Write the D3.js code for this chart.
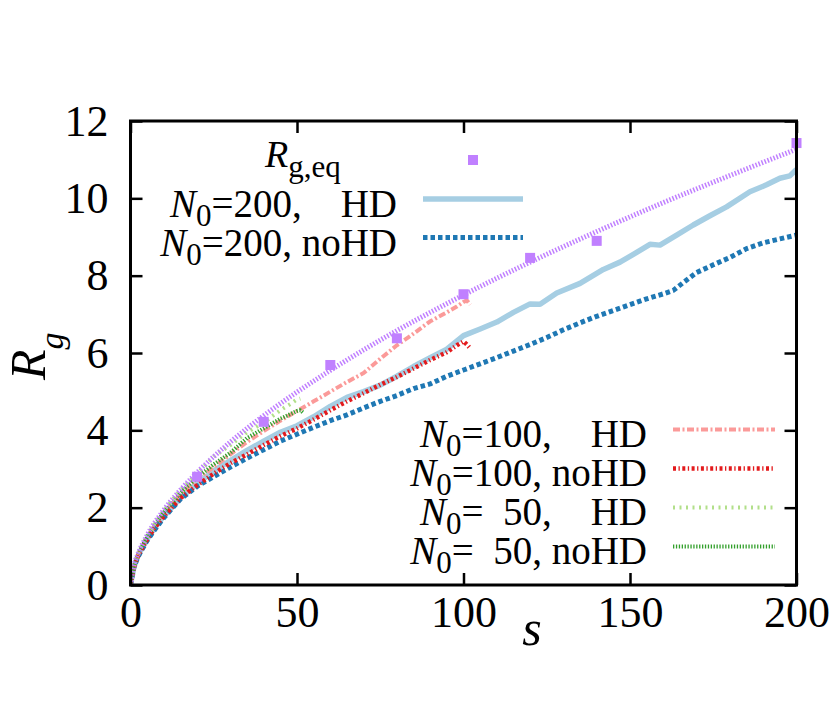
<!DOCTYPE html>
<html><head><meta charset="utf-8">
<script src="https://cdn.jsdelivr.net/npm/d3@7"></script>
<style>
html,body{margin:0;padding:0;background:#fff;}
svg text{font-family:"Liberation Serif","DejaVu Serif",serif;white-space:pre;}
</style></head>
<body>
<svg id="chart" width="830" height="705"></svg>
<script>
// ---- data ----
const xTicks = [0, 50, 100, 150, 200];
const yTicks = [0, 2, 4, 6, 8, 10, 12];

// R_g,eq reference points
const eqS = [20, 40, 60, 80, 100, 120, 140, 200];
const eqR = [2.80, 4.22, 5.69, 6.38, 7.52, 8.46, 8.90, 11.43];

// fit curve through R_g,eq
const fitS = [0, 1, 2, 5, 10, 15, 20, 30, 40, 50, 60, 70, 80, 90, 100, 120, 140, 160, 180, 200];
const fitR = [0, 0.5, 0.75, 1.29, 1.94, 2.46, 2.91, 3.70, 4.38, 4.99, 5.55, 6.08, 6.58, 7.05, 7.50, 8.35, 9.14, 9.89, 10.59, 11.27];

// N0=200, HD
const hd200S = [0,1,2,3,5,7,10,15,20,25,30,35,40,45,50,55,60,65,70,75,80,85,90,95,100,105,110,115,120,123,128,135,142,147,151,156,159,164,169,174,179,186,191,195,198,200];
const hd200R = [0,0.45,0.70,0.88,1.18,1.45,1.78,2.25,2.62,2.95,3.22,3.48,3.72,3.95,4.12,4.35,4.62,4.85,5.00,5.17,5.40,5.65,5.88,6.10,6.45,6.62,6.80,7.05,7.27,7.26,7.55,7.80,8.16,8.35,8.55,8.81,8.79,9.05,9.31,9.55,9.78,10.17,10.35,10.52,10.58,10.75];

// N0=200, noHD
const nohd200S = [0,1,2,3,5,7,10,15,20,25,30,35,40,45,50,55,60,65,70,75,80,85,90,95,100,105,110,115,120,125,130,135,140,145,150,155,160,163,166,170,175,180,185,190,195,200];
const nohd200R = [0,0.45,0.68,0.85,1.15,1.40,1.74,2.22,2.55,2.80,3.05,3.28,3.50,3.72,3.90,4.08,4.25,4.40,4.58,4.75,4.90,5.08,5.20,5.40,5.56,5.72,5.88,6.05,6.22,6.40,6.60,6.78,6.95,7.10,7.25,7.40,7.53,7.62,7.82,8.08,8.28,8.47,8.70,8.85,8.95,9.05];

// N0=100, HD
const hd100S = [0,1,2,3,5,7,10,15,20,25,30,35,40,45,50,55,60,65,70,75,80,85,90,95,98,100,101,102];
const hd100R = [0,0.46,0.72,0.92,1.22,1.50,1.85,2.35,2.72,3.05,3.38,3.70,3.98,4.25,4.50,4.75,5.00,5.25,5.48,5.85,6.20,6.50,6.82,7.05,7.20,7.32,7.36,7.25];

// N0=100, noHD
const nohd100S = [0,1,2,3,5,7,10,15,20,25,30,35,40,45,50,55,60,65,70,75,80,85,90,95,98,100,101,102];
const nohd100R = [0,0.45,0.70,0.88,1.18,1.45,1.78,2.25,2.58,2.88,3.15,3.38,3.62,3.85,4.05,4.28,4.52,4.75,4.96,5.18,5.38,5.60,5.82,6.02,6.20,6.30,6.22,6.12];

// N0=50, HD
const hd50S = [0,1,2,3,5,7,10,15,20,25,30,35,40,45,48,50,51];
const hd50R = [0,0.48,0.75,0.95,1.27,1.55,1.92,2.45,2.88,3.32,3.62,3.95,4.20,4.52,4.68,4.80,4.82];

// N0=50, noHD
const nohd50S = [0,1,2,3,5,7,10,15,20,25,30,35,40,45,48,50,51,52];
const nohd50R = [0,0.47,0.73,0.93,1.24,1.52,1.88,2.38,2.78,3.12,3.42,3.80,4.05,4.30,4.42,4.50,4.52,4.45];

// ---- chart ----
const svg = d3.select("#chart");
const L = 130.5, R = 796.5, T = 121, B = 585;
const x = d3.scaleLinear().domain([0, 200]).range([L, R]);
const y = d3.scaleLinear().domain([0, 12]).range([B, T]);

const tickFont = 44;

const series = [
  {s: hd200S, r: hd200R, color: "#a6cee3", w: 5.5, dash: null},
  {s: nohd200S, r: nohd200R, color: "#1f78b4", w: 5, dash: "4.5,3"},
  {s: hd100S, r: hd100R, color: "#fb9a99", w: 4, dash: "7,2.5,2,2.5"},
  {s: nohd100S, r: nohd100R, color: "#e31a1c", w: 4.5, dash: "3,2.5,1.3,2.5"},
  {s: hd50S, r: hd50R, color: "#b2df8a", w: 4, dash: "2,4.5"},
  {s: nohd50S, r: nohd50R, color: "#33a02c", w: 4, dash: "1.3,1.6"}
];

const line = d3.line().x(d => x(d[0])).y(d => y(d[1]));
svg.append("clipPath").attr("id", "pc").append("rect")
  .attr("x", L).attr("y", T).attr("width", R - L).attr("height", B - T);
const plot = svg.append("g").attr("clip-path", "url(#pc)");

series.forEach(se => {
  plot.append("path")
    .datum(d3.zip(se.s, se.r))
    .attr("d", line)
    .attr("fill", "none")
    .attr("stroke", se.color)
    .attr("stroke-width", se.w)
    .attr("stroke-dasharray", se.dash)
    .attr("stroke-linejoin", "round");
});

// fit line
plot.append("path")
  .datum(d3.zip(fitS, fitR))
  .attr("d", d3.line().x(d => x(d[0])).y(d => y(d[1])).curve(d3.curveMonotoneX))
  .attr("fill", "none")
  .attr("stroke", "#c080ff")
  .attr("stroke-width", 5)
  .attr("stroke-dasharray", "1.5,1.7");

// reference squares
const sq = 10;
svg.append("g").selectAll("rect")
  .data(d3.zip(eqS, eqR))
  .join("rect")
  .attr("x", d => x(d[0]) - sq / 2)
  .attr("y", d => y(d[1]) - sq / 2)
  .attr("width", sq).attr("height", sq)
  .attr("fill", "#c080ff");

// axes
const ax = (g) => {
  g.select(".domain").remove();
  g.selectAll("line").attr("stroke", "#000").attr("stroke-width", 2.5);
  g.selectAll("text").attr("font-size", tickFont).attr("font-family", "Liberation Serif").attr("fill", "#000");
};
svg.append("g").attr("transform", `translate(0,${B})`)
  .call(d3.axisBottom(x).tickValues(xTicks).tickSizeInner(-12).tickSizeOuter(0).tickPadding(11).tickFormat(d3.format("d")))
  .call(ax);
svg.append("g").attr("transform", `translate(${L},0)`)
  .call(d3.axisLeft(y).tickValues(yTicks).tickSizeInner(-12).tickSizeOuter(0).tickPadding(22).tickFormat(d3.format("d")))
  .call(ax);
svg.append("g").attr("transform", `translate(0,${T})`)
  .call(d3.axisTop(x).tickValues(xTicks).tickSizeInner(-12).tickSizeOuter(0).tickFormat(""))
  .call(ax);
svg.append("g").attr("transform", `translate(${R},0)`)
  .call(d3.axisRight(y).tickValues(yTicks).tickSizeInner(-12).tickSizeOuter(0).tickFormat(""))
  .call(ax);

svg.append("rect").attr("x", L).attr("y", T).attr("width", R - L).attr("height", B - T)
  .attr("fill", "none").attr("stroke", "#000").attr("stroke-width", 3);

// axis labels
const yl = svg.append("text").attr("transform", "translate(45,380) rotate(-90)")
  .attr("font-size", 50).attr("font-style", "italic");
yl.append("tspan").text("R");
yl.append("tspan").attr("dy", 18).attr("font-size", 34).text("g");

svg.append("text").attr("x", 532).attr("y", 645).attr("text-anchor", "middle")
  .attr("font-size", 50).attr("font-style", "italic").text("s");

// legends
const legFont = 39;
function nLabel(g, xEnd, yBase, num, tail) {
  const t = g.append("text").attr("x", xEnd).attr("y", yBase).attr("text-anchor", "end")
    .attr("font-size", legFont);
  t.append("tspan").attr("font-style", "italic").text("N");
  t.append("tspan").attr("dy", 9).attr("font-size", 31).text("0");
  t.append("tspan").attr("dy", -9).text("=" + num + "," + tail);
}
const leg = svg.append("g");
// R_g,eq entry
const rt = leg.append("text").attr("x", 265).attr("y", 167).attr("font-size", 38);
rt.append("tspan").attr("font-style", "italic").text("R");
rt.append("tspan").attr("dy", 10).attr("font-size", 31).text("g,eq");
leg.append("rect").attr("x", 473 - sq / 2).attr("y", 160 - sq / 2).attr("width", sq).attr("height", sq).attr("fill", "#c080ff");

const legTop = [
  {num: "200", tail: "    HD", se: series[0], yl: 199},
  {num: "200", tail: " noHD", se: series[1], yl: 237.5}
];
legTop.forEach(e => {
  nLabel(leg, 397, e.yl + 18, e.num, e.tail);
  leg.append("line").attr("x1", 423).attr("x2", 523).attr("y1", e.yl).attr("y2", e.yl)
    .attr("stroke", e.se.color).attr("stroke-width", e.se.w).attr("stroke-dasharray", e.se.dash);
});

const legBot = [
  {num: "100", tail: "    HD", se: series[2], yl: 429.5},
  {num: "100", tail: " noHD", se: series[3], yl: 468.5},
  {num: "  50", tail: "    HD", se: series[4], yl: 507.5},
  {num: "  50", tail: " noHD", se: series[5], yl: 546.5}
];
legBot.forEach(e => {
  nLabel(leg, 647, e.yl + 17, e.num, e.tail);
  leg.append("line").attr("x1", 673).attr("x2", 775).attr("y1", e.yl).attr("y2", e.yl)
    .attr("stroke", e.se.color).attr("stroke-width", e.se.w).attr("stroke-dasharray", e.se.dash);
});
</script>
</body></html>
